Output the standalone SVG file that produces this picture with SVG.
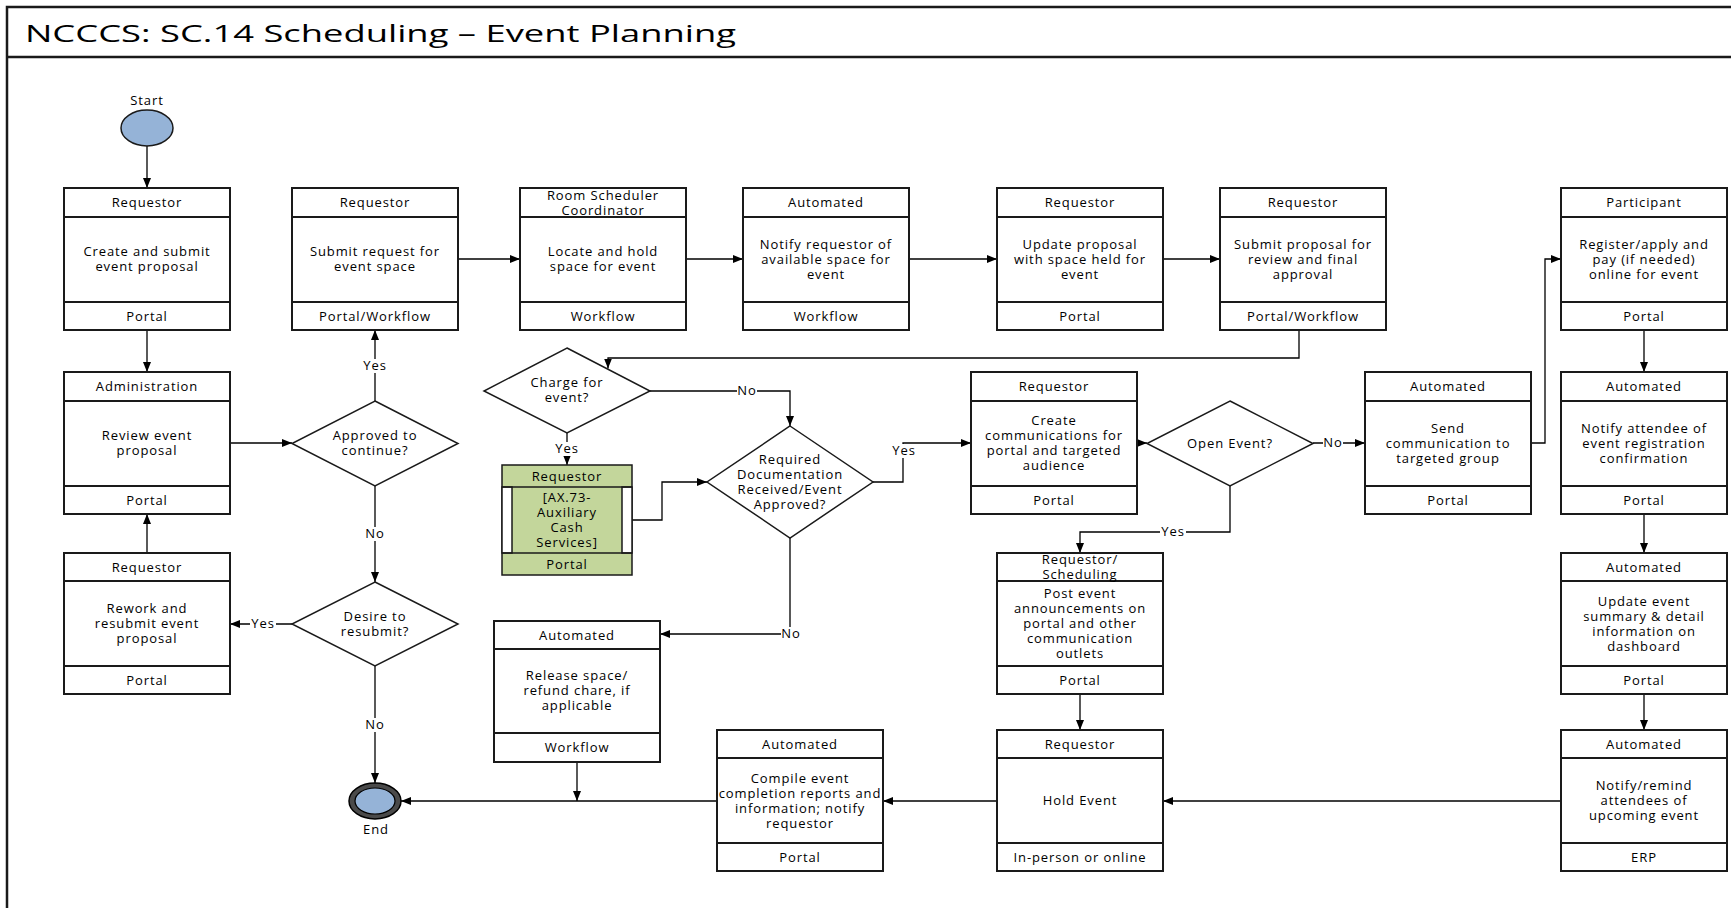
<svg xmlns="http://www.w3.org/2000/svg" width="1731" height="908" viewBox="0 0 1731 908">
<defs>
  <marker id="arr" markerWidth="10" markerHeight="8" refX="10" refY="4" orient="auto" markerUnits="userSpaceOnUse">
    <path d="M0,0 L10,4 L0,8 z" fill="#000"/>
  </marker>
  <style>
    .frame{fill:none;stroke:#1a1a1a;stroke-width:2.5}
    .box{fill:#fff;stroke:#1a1a1a;stroke-width:2}
    .sep{stroke:#1a1a1a;stroke-width:2}
    .dec{fill:#fff;stroke:#1a1a1a;stroke-width:1.5}
    .sub{fill:#C3D69B;stroke:#1a1a1a;stroke-width:1.5}
    .bar{fill:#fff;stroke:#1a1a1a;stroke-width:1.5}
    .conn{fill:none;stroke:#000;stroke-width:1.3;marker-end:url(#arr)}
    .bg{fill:#fff}
    text{font-family:"Open Sans","Liberation Sans",sans-serif;font-size:13px;fill:#000;text-anchor:middle;letter-spacing:0.9px}
    .title{font-size:24px;text-anchor:start;letter-spacing:0}
  </style>
</defs>

<!-- page frame and title bar -->
<g id="frame">
  <rect class="frame" x="7" y="7" width="1740" height="920"/>
  <line class="frame" x1="7" y1="57" x2="1740" y2="57"/>
  <text class="title" x="25" y="42" textLength="711" lengthAdjust="spacingAndGlyphs">NCCCS:  SC.14 Scheduling – Event Planning</text>
</g>

<!-- connectors -->
<g id="connectors">
  <path class="conn" d="M147,146 V188"/>
  <path class="conn" d="M147,330 V372"/>
  <path class="conn" d="M147,553 V514"/>
  <path class="conn" d="M230,443 H292"/>
  <path class="conn" d="M375,401 V330"/>
  <path class="conn" d="M375,486 V582"/>
  <path class="conn" d="M292,624 H230"/>
  <path class="conn" d="M375,666 V783"/>
  <path class="conn" d="M458,259 H520"/>
  <path class="conn" d="M686,259 H743"/>
  <path class="conn" d="M909,259 H997"/>
  <path class="conn" d="M1163,259 H1220"/>
  <path class="conn" d="M1299,330 V358 H608 V368.5"/>
  <path class="conn" d="M650,391 H790 V426"/>
  <path class="conn" d="M567,433 V465"/>
  <path class="conn" d="M632,520 H662 V482 H707"/>
  <path class="conn" d="M873,482 H903 V443 H971"/>
  <path class="conn" d="M790,538 V634 H660"/>
  <path class="conn" d="M1137,443 H1147"/>
  <path class="conn" d="M1313,443 H1365"/>
  <path class="conn" d="M1230,486 V532 H1080 V553"/>
  <path class="conn" d="M1531,443 H1545 V259 H1561"/>
  <path class="conn" d="M1644,330 V372"/>
  <path class="conn" d="M1644,514 V553"/>
  <path class="conn" d="M1644,694 V730"/>
  <path class="conn" d="M1561,801 H1163"/>
  <path class="conn" d="M1080,694 V730"/>
  <path class="conn" d="M997,801 H883"/>
  <path class="conn" d="M717,801 H401"/>
  <path class="conn" d="M577,762 V801"/>

  <!-- branch labels -->
  <rect class="bg" x="362" y="359" width="26" height="14"/><text x="375" y="370">Yes</text>
  <rect class="bg" x="365" y="527" width="20" height="14"/><text x="375" y="538">No</text>
  <rect class="bg" x="365" y="718" width="20" height="14"/><text x="375" y="729">No</text>
  <rect class="bg" x="250" y="617" width="26" height="14"/><text x="263" y="628">Yes</text>
  <rect class="bg" x="554" y="442" width="26" height="14"/><text x="567" y="453">Yes</text>
  <rect class="bg" x="737" y="384" width="20" height="14"/><text x="747" y="395">No</text>
  <rect class="bg" x="891" y="444" width="26" height="14"/><text x="904" y="455">Yes</text>
  <rect class="bg" x="781" y="627" width="20" height="14"/><text x="791" y="638">No</text>
  <rect class="bg" x="1323" y="436" width="20" height="14"/><text x="1333" y="447">No</text>
  <rect class="bg" x="1160" y="525" width="26" height="14"/><text x="1173" y="536">Yes</text>
</g>

<!-- start / end -->
<g id="start">
  <text x="147" y="105">Start</text>
  <ellipse cx="147" cy="128" rx="26" ry="18" fill="#95B3D7" stroke="#1a1a1a" stroke-width="1.5"/>
</g>
<g id="end">
  <ellipse cx="375" cy="801" rx="26" ry="18" fill="#4a4a4a" stroke="#000" stroke-width="1.5"/>
  <ellipse cx="375" cy="801" rx="20" ry="13" fill="#95B3D7" stroke="#000" stroke-width="1.2"/>
  <text x="376" y="834">End</text>
</g>

<!-- row 1 -->
<g id="create-proposal">
  <rect class="box" x="64" y="188" width="166" height="142"/>
  <line class="sep" x1="64" y1="217" x2="230" y2="217"/><line class="sep" x1="64" y1="302" x2="230" y2="302"/>
  <text x="147" y="207">Requestor</text>
  <text x="147" y="256">Create and submit</text><text x="147" y="271">event proposal</text>
  <text x="147" y="321">Portal</text>
</g>
<g id="request-space">
  <rect class="box" x="292" y="188" width="166" height="142"/>
  <line class="sep" x1="292" y1="217" x2="458" y2="217"/><line class="sep" x1="292" y1="302" x2="458" y2="302"/>
  <text x="375" y="207">Requestor</text>
  <text x="375" y="256">Submit request for</text><text x="375" y="271">event space</text>
  <text x="375" y="321">Portal/Workflow</text>
</g>
<g id="hold-space">
  <rect class="box" x="520" y="188" width="166" height="142"/>
  <line class="sep" x1="520" y1="217" x2="686" y2="217"/><line class="sep" x1="520" y1="302" x2="686" y2="302"/>
  <text x="603" y="199.5">Room Scheduler</text><text x="603" y="214.5">Coordinator</text>
  <text x="603" y="256">Locate and hold</text><text x="603" y="271">space for event</text>
  <text x="603" y="321">Workflow</text>
</g>
<g id="notify-space">
  <rect class="box" x="743" y="188" width="166" height="142"/>
  <line class="sep" x1="743" y1="217" x2="909" y2="217"/><line class="sep" x1="743" y1="302" x2="909" y2="302"/>
  <text x="826" y="207">Automated</text>
  <text x="826" y="249">Notify requestor of</text><text x="826" y="264">available space for</text><text x="826" y="279">event</text>
  <text x="826" y="321">Workflow</text>
</g>
<g id="update-proposal">
  <rect class="box" x="997" y="188" width="166" height="142"/>
  <line class="sep" x1="997" y1="217" x2="1163" y2="217"/><line class="sep" x1="997" y1="302" x2="1163" y2="302"/>
  <text x="1080" y="207">Requestor</text>
  <text x="1080" y="249">Update proposal</text><text x="1080" y="264">with space held for</text><text x="1080" y="279">event</text>
  <text x="1080" y="321">Portal</text>
</g>
<g id="submit-proposal">
  <rect class="box" x="1220" y="188" width="166" height="142"/>
  <line class="sep" x1="1220" y1="217" x2="1386" y2="217"/><line class="sep" x1="1220" y1="302" x2="1386" y2="302"/>
  <text x="1303" y="207">Requestor</text>
  <text x="1303" y="249">Submit proposal for</text><text x="1303" y="264">review and final</text><text x="1303" y="279">approval</text>
  <text x="1303" y="321">Portal/Workflow</text>
</g>
<g id="register">
  <rect class="box" x="1561" y="188" width="166" height="142"/>
  <line class="sep" x1="1561" y1="217" x2="1727" y2="217"/><line class="sep" x1="1561" y1="302" x2="1727" y2="302"/>
  <text x="1644" y="207">Participant</text>
  <text x="1644" y="249">Register/apply and</text><text x="1644" y="264">pay (if needed)</text><text x="1644" y="279">online for event</text>
  <text x="1644" y="321">Portal</text>
</g>

<!-- row 2 -->
<g id="review-proposal">
  <rect class="box" x="64" y="372" width="166" height="142"/>
  <line class="sep" x1="64" y1="401" x2="230" y2="401"/><line class="sep" x1="64" y1="486" x2="230" y2="486"/>
  <text x="147" y="391">Administration</text>
  <text x="147" y="440">Review event</text><text x="147" y="455">proposal</text>
  <text x="147" y="505">Portal</text>
</g>
<g id="approved">
  <polygon class="dec" points="375,401 458,443.5 375,486 292,443.5"/>
  <text x="375" y="440">Approved to</text><text x="375" y="455">continue?</text>
</g>
<g id="charge">
  <polygon class="dec" points="567,348 650,391 567,433 484,391"/>
  <text x="567" y="387">Charge for</text><text x="567" y="402">event?</text>
</g>
<g id="cash-services">
  <rect class="sub" x="502" y="465" width="130" height="110"/>
  <rect class="bar" x="502" y="487" width="10" height="66"/>
  <rect class="bar" x="622" y="487" width="10" height="66"/>
  <line class="sep" x1="502" y1="487" x2="632" y2="487" style="stroke-width:1.5"/>
  <line class="sep" x1="502" y1="553" x2="632" y2="553" style="stroke-width:1.5"/>
  <text x="567" y="480.5">Requestor</text>
  <text x="567" y="502">[AX.73-</text><text x="567" y="517">Auxiliary</text><text x="567" y="532">Cash</text><text x="567" y="547">Services]</text>
  <text x="567" y="568.5">Portal</text>
</g>
<g id="documentation">
  <polygon class="dec" points="790,426 873,482 790,538 707,482"/>
  <text x="790" y="464">Required</text><text x="790" y="479">Documentation</text><text x="790" y="494">Received/Event</text><text x="790" y="509">Approved?</text>
</g>
<g id="create-comms">
  <rect class="box" x="971" y="372" width="166" height="142"/>
  <line class="sep" x1="971" y1="401" x2="1137" y2="401"/><line class="sep" x1="971" y1="486" x2="1137" y2="486"/>
  <text x="1054" y="391">Requestor</text>
  <text x="1054" y="425">Create</text><text x="1054" y="440">communications for</text><text x="1054" y="455">portal and targeted</text><text x="1054" y="470">audience</text>
  <text x="1054" y="505">Portal</text>
</g>
<g id="open-event">
  <polygon class="dec" points="1230,401 1313,443.5 1230,486 1147,443.5"/>
  <text x="1230" y="448">Open Event?</text>
</g>
<g id="send-comms">
  <rect class="box" x="1365" y="372" width="166" height="142"/>
  <line class="sep" x1="1365" y1="401" x2="1531" y2="401"/><line class="sep" x1="1365" y1="486" x2="1531" y2="486"/>
  <text x="1448" y="391">Automated</text>
  <text x="1448" y="433">Send</text><text x="1448" y="448">communication to</text><text x="1448" y="463">targeted group</text>
  <text x="1448" y="505">Portal</text>
</g>
<g id="confirm-registration">
  <rect class="box" x="1561" y="372" width="166" height="142"/>
  <line class="sep" x1="1561" y1="401" x2="1727" y2="401"/><line class="sep" x1="1561" y1="486" x2="1727" y2="486"/>
  <text x="1644" y="391">Automated</text>
  <text x="1644" y="433">Notify attendee of</text><text x="1644" y="448">event registration</text><text x="1644" y="463">confirmation</text>
  <text x="1644" y="505">Portal</text>
</g>

<!-- row 3 -->
<g id="rework">
  <rect class="box" x="64" y="553" width="166" height="141"/>
  <line class="sep" x1="64" y1="581" x2="230" y2="581"/><line class="sep" x1="64" y1="666" x2="230" y2="666"/>
  <text x="147" y="571.5">Requestor</text>
  <text x="147" y="613">Rework and</text><text x="147" y="628">resubmit event</text><text x="147" y="643">proposal</text>
  <text x="147" y="684.5">Portal</text>
</g>
<g id="resubmit">
  <polygon class="dec" points="375,582 458,624 375,666 292,624"/>
  <text x="375" y="621">Desire to</text><text x="375" y="636">resubmit?</text>
</g>
<g id="release-space">
  <rect class="box" x="494" y="621" width="166" height="141"/>
  <line class="sep" x1="494" y1="649" x2="660" y2="649"/><line class="sep" x1="494" y1="733" x2="660" y2="733"/>
  <text x="577" y="639.5">Automated</text>
  <text x="577" y="680">Release space/</text><text x="577" y="695">refund chare, if</text><text x="577" y="710">applicable</text>
  <text x="577" y="752">Workflow</text>
</g>
<g id="post-announcements">
  <rect class="box" x="997" y="553" width="166" height="141"/>
  <line class="sep" x1="997" y1="581" x2="1163" y2="581"/><line class="sep" x1="997" y1="666" x2="1163" y2="666"/>
  <text x="1080" y="564">Requestor/</text><text x="1080" y="579">Scheduling</text>
  <text x="1080" y="598">Post event</text><text x="1080" y="613">announcements on</text><text x="1080" y="628">portal and other</text><text x="1080" y="643">communication</text><text x="1080" y="658">outlets</text>
  <text x="1080" y="684.5">Portal</text>
</g>
<g id="update-dashboard">
  <rect class="box" x="1561" y="553" width="166" height="141"/>
  <line class="sep" x1="1561" y1="581" x2="1727" y2="581"/><line class="sep" x1="1561" y1="666" x2="1727" y2="666"/>
  <text x="1644" y="571.5">Automated</text>
  <text x="1644" y="606">Update event</text><text x="1644" y="621">summary &amp; detail</text><text x="1644" y="636">information on</text><text x="1644" y="651">dashboard</text>
  <text x="1644" y="684.5">Portal</text>
</g>

<!-- row 4 -->
<g id="compile-reports">
  <rect class="box" x="717" y="730" width="166" height="141"/>
  <line class="sep" x1="717" y1="758" x2="883" y2="758"/><line class="sep" x1="717" y1="843" x2="883" y2="843"/>
  <text x="800" y="748.5">Automated</text>
  <text x="800" y="783">Compile event</text><text x="800" y="798">completion reports and</text><text x="800" y="813">information; notify</text><text x="800" y="828">requestor</text>
  <text x="800" y="861.5">Portal</text>
</g>
<g id="hold-event">
  <rect class="box" x="997" y="730" width="166" height="141"/>
  <line class="sep" x1="997" y1="758" x2="1163" y2="758"/><line class="sep" x1="997" y1="843" x2="1163" y2="843"/>
  <text x="1080" y="748.5">Requestor</text>
  <text x="1080" y="805">Hold Event</text>
  <text x="1080" y="861.5">In-person or online</text>
</g>
<g id="remind-attendees">
  <rect class="box" x="1561" y="730" width="166" height="141"/>
  <line class="sep" x1="1561" y1="758" x2="1727" y2="758"/><line class="sep" x1="1561" y1="843" x2="1727" y2="843"/>
  <text x="1644" y="748.5">Automated</text>
  <text x="1644" y="790">Notify/remind</text><text x="1644" y="805">attendees of</text><text x="1644" y="820">upcoming event</text>
  <text x="1644" y="861.5">ERP</text>
</g>
</svg>
